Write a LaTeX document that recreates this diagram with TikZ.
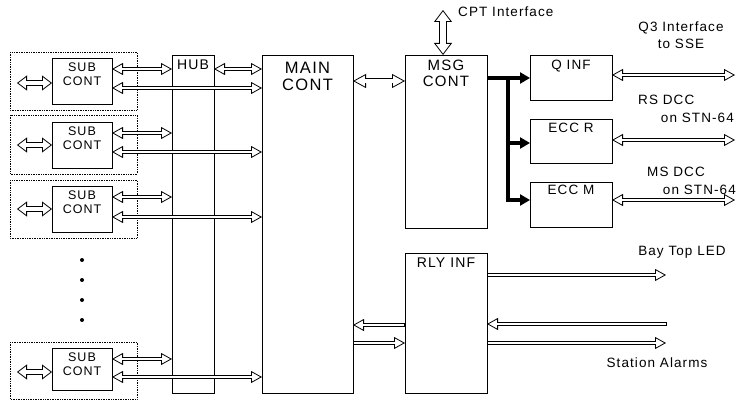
\documentclass[tikz,border=0pt]{standalone}
\usepackage{fontspec}
\setmainfont{Liberation Sans}[LetterSpace=8]
\usetikzlibrary{arrows.meta, positioning, math}

\tikzset{
hollow/.tip={Triangle[length=11pt, width=12pt, fill=white, line width=0.8pt]},
hollowmid/.tip={Triangle[length=13pt, width=14pt, fill=white, line width=0.8pt]},
hollowfat/.tip={Triangle[length=10pt, width=15pt, fill=white, line width=0.8pt]},
hollowbig/.tip={Triangle[length=12pt, width=18pt, fill=white, line width=0.8pt]},
box/.style={draw, line width=0.8pt, inner sep=0pt, outer sep=0pt, anchor=north west},
lbl/.style={inner sep=0pt, anchor=north, align=center},
frame/.style={draw, densely dotted, line width=0.7pt},
pipeLR/.style={line width=3.6pt, {hollow}-{hollow}, postaction={draw=white, line width=1.8pt, arrows=-, shorten <=9pt, shorten >=9pt}},
pipeR/.style={line width=3.6pt, -{hollow}, postaction={draw=white, line width=1.8pt, arrows=-, shorten <=0.9pt, shorten >=9pt}},
pipeL/.style={line width=3.6pt, {hollow}-, postaction={draw=white, line width=1.8pt, arrows=-, shorten <=9pt, shorten >=0.9pt}},
pipemid/.style={line width=5pt, {hollowmid}-{hollowmid}, postaction={draw=white, line width=3.2pt, arrows=-, shorten <=10.5pt, shorten >=10.5pt}},
fat/.style={line width=6pt, {hollowfat}-{hollowfat}, postaction={draw=white, line width=4.4pt, arrows=-, shorten <=8pt, shorten >=8pt}},
fatbig/.style={line width=7.5pt, {hollowbig}-{hollowbig}, postaction={draw=white, line width=5.9pt, arrows=-, shorten <=9.5pt, shorten >=9.5pt}},
bus/.style={line width=3.5pt, -{Triangle[length=10pt, width=11pt]}},
}

\begin{document}
\begin{tikzpicture}[x=1pt, y=-1pt]
\tikzmath{
\fsub=12.5;
\fbig=16.5;
}
\useasboundingbox (0,0) rectangle (737,401);

% main blocks
\node[box, minimum width=42pt, minimum height=338pt] (hub) at (172,55) {};
\node[lbl, font=\fontsize{14}{16}\selectfont] (hubt) at ([yshift=-5pt]hub.north) {HUB};
\node[box, minimum width=91pt, minimum height=338pt] (main) at (262,55) {};
\node[lbl, font=\fontsize{\fbig}{17}\selectfont] (maint) at ([yshift=-7pt]main.north) {MAIN\\CONT};
\node[box, minimum width=82pt, minimum height=173pt] (msg) at (405,55) {};
\node[lbl, font=\fontsize{15}{16}\selectfont] (msgt) at ([yshift=-5pt]msg.north) {MSG\\CONT};
\node[box, minimum width=82pt, minimum height=140pt] (rly) at (405,253) {};
\node[lbl, font=\fontsize{14}{16}\selectfont] (rlyt) at ([yshift=-5pt]rly.north) {RLY INF};
\node[box, minimum width=82pt, minimum height=45pt] (qinf) at (530,55) {};
\node[lbl, font=\fontsize{13.5}{16}\selectfont] (qinft) at ([yshift=-5pt]qinf.north) {Q INF};
\node[box, minimum width=82pt, minimum height=44pt] (eccr) at (530,119) {};
\node[lbl, font=\fontsize{13.5}{16}\selectfont] (eccrt) at ([yshift=-4pt]eccr.north) {ECC R};
\node[box, minimum width=82pt, minimum height=45pt] (eccm) at (530,182) {};
\node[lbl, font=\fontsize{13.5}{16}\selectfont] (eccmt) at ([yshift=-3pt]eccm.north) {ECC M};

% sub controllers
\begin{scope}[shift={(0,58)}]
\draw[frame] (10,-6) rectangle (137,52);
\node[box, minimum width=60pt, minimum height=46pt] (sub1) at (52,0) {};
\node[lbl, font=\fontsize{\fsub}{14}\selectfont] (sub1t) at ([yshift=-5pt]sub1.north) {SUB\\CONT};
\coordinate (in1) at (17,25);
\draw[fat] (in1) -- (in1 -| sub1.west);
\draw[pipeLR] (sub1.east |- 0,11) -- (hub.west |- 0,11);
\draw[pipeLR] (sub1.east |- 0,30) -- (main.west |- 0,30);
\end{scope}

\begin{scope}[shift={(0,122)}]
\draw[frame] (10,-7) rectangle (137,52);
\node[box, minimum width=60pt, minimum height=46pt] (sub2) at (52,0) {};
\node[lbl, font=\fontsize{\fsub}{14}\selectfont] (sub2t) at ([yshift=-5pt]sub2.north) {SUB\\CONT};
\coordinate (in2) at (17,23);
\draw[fat] (in2) -- (in2 -| sub2.west);
\draw[pipeLR] (sub2.east |- 0,11) -- (hub.west |- 0,11);
\draw[pipeLR] (sub2.east |- 0,30) -- (main.west |- 0,30);
\end{scope}

\begin{scope}[shift={(0,186)}]
\draw[frame] (10,-6) rectangle (137,52);
\node[box, minimum width=60pt, minimum height=46pt] (sub3) at (52,0) {};
\node[lbl, font=\fontsize{\fsub}{14}\selectfont] (sub3t) at ([yshift=-5pt]sub3.north) {SUB\\CONT};
\coordinate (in3) at (17,23);
\draw[fat] (in3) -- (in3 -| sub3.west);
\draw[pipeLR] (sub3.east |- 0,11) -- (hub.west |- 0,11);
\draw[pipeLR] (sub3.east |- 0,31) -- (main.west |- 0,31);
\end{scope}

\begin{scope}[shift={(0,348)}]
\draw[frame] (10,-6) rectangle (137,51);
\node[box, minimum width=60pt, minimum height=42pt] (sub4) at (52,0) {};
\node[lbl, font=\fontsize{\fsub}{14}\selectfont] (sub4t) at ([yshift=-5pt]sub4.north) {SUB\\CONT};
\coordinate (in4) at (17,24);
\draw[fat] (in4) -- (in4 -| sub4.west);
\draw[pipeLR] (sub4.east |- 0,11) -- (hub.west |- 0,11);
\draw[pipeLR] (sub4.east |- 0,29) -- (main.west |- 0,29);
\end{scope}

%dots
\fill (82,260) circle (2pt) (82,280) circle (2pt) (82,300) circle (2pt) (82,320) circle (2pt);

%links
\draw[pipeLR] (hub.east |- 0,69) -- (main.west |- 0,69);
\draw[pipemid] (main.east |- 0,81) -- (msg.west |- 0,81);
\coordinate (cpt) at (443,10);
\draw[fatbig] (cpt) -- (cpt |- msg.north);
\draw[pipeL] (main.east |- 0,325) -- (rly.west |- 0,325);
\draw[pipeR] (main.east |- 0,343) -- (rly.west |- 0,343);

%bus
\coordinate (junc) at (508,78);
\draw[bus] (msg.east |- junc) -- (qinf.west |- junc);
\draw[bus] (junc) |- (eccm.west |- 0,200);
\draw[bus] (junc |- 0,143) -- (eccr.west |- 0,143);

%outside
\coordinate (q3) at (735,75);
\coordinate (rs) at (735,140);
\coordinate (ms) at (735,200);
\draw[pipeLR] (qinf.east |- q3) -- (q3);
\draw[pipeLR] (eccr.east |- rs) -- (rs);
\draw[pipeLR] (eccm.east |- ms) -- (ms);
\coordinate (led) at (666,275);
\coordinate (almin) at (667,324);
\coordinate (almout) at (666,343);
\draw[pipeR] (rly.east |- led) -- (led);
\draw[pipeL] (rly.east |- almin) -- (almin);
\draw[pipeR] (rly.east |- almout) -- (almout);

%labels
\node[anchor=west, inner sep=0pt, font=\fontsize{13.5}{16}\selectfont] (cptl) at (458,12) {CPT Interface};
\node[inner sep=0pt, align=center, font=\fontsize{13.5}{17}\selectfont] (q3l) at (681,35) {Q3 Interface\\to SSE};
\node[anchor=west, inner sep=0pt, font=\fontsize{13.5}{16}\selectfont] (rsl) at (638,100) {RS DCC};
\node[anchor=east, inner sep=0pt, font=\fontsize{13.5}{16}\selectfont] (rsl2) at (734,118) {on STN-64};
\node[anchor=west, inner sep=0pt, font=\fontsize{13.5}{16}\selectfont] (msl) at (647,172) {MS DCC};
\node[anchor=east, inner sep=0pt, font=\fontsize{13.5}{16}\selectfont] (msl2) at (736,190) {on STN-64};
\node[inner sep=0pt, font=\fontsize{13.5}{16}\selectfont] (ledl) at (682,252) {Bay Top LED};
\node[inner sep=0pt, font=\fontsize{13.5}{16}\selectfont] (alml) at (657,363) {Station Alarms};

\end{tikzpicture}
\end{document}
